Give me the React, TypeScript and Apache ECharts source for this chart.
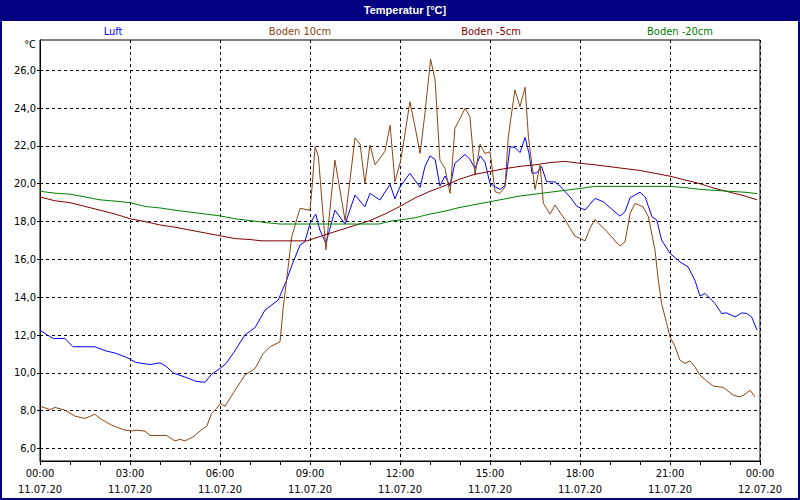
import React, { useEffect, useRef } from 'react';
import * as echarts from 'echarts';

// ---- data ----
const xTicks = [0, 3, 6, 9, 12, 15, 18, 21, 24];
const timeLabels = ['00:00', '03:00', '06:00', '09:00', '12:00', '15:00', '18:00', '21:00', '00:00'];
const dateLabels = ['11.07.20', '11.07.20', '11.07.20', '11.07.20', '11.07.20', '11.07.20', '11.07.20', '11.07.20', '12.07.20'];
const yTicks = [6, 8, 10, 12, 14, 16, 18, 20, 22, 24, 26];
const seriesNames = ['Luft', 'Boden 10cm', 'Boden -5cm', 'Boden -20cm'];
const seriesColors = ['#0000ff', '#8b4513', '#800000', '#008000'];
const chartTitle = 'Temperatur [°C]';
const unitLabel = '°C';

// [hour, °C]
const luft = [
  [0, 12.26], [0.2, 12.05], [0.44, 11.82], [0.83, 11.82], [1.1, 11.38], [1.83, 11.38], [2.2, 11.16], [2.5, 11.05],
  [2.9, 10.81], [3.2, 10.55], [3.67, 10.44], [4.0, 10.53], [4.2, 10.35], [4.44, 10.0], [4.9, 9.74], [5.2, 9.55],
  [5.5, 9.5], [5.72, 9.93], [6.0, 10.23], [6.2, 10.5], [6.44, 11.03], [6.83, 12.0], [7.17, 12.4], [7.5, 13.32],
  [7.94, 13.85], [8.22, 14.9], [8.4, 15.7], [8.67, 16.76], [8.83, 16.93], [9.0, 17.9], [9.19, 18.4], [9.33, 17.55],
  [9.53, 16.85], [9.83, 18.6], [10.17, 17.87], [10.5, 19.4], [10.83, 18.78], [11.0, 19.49], [11.33, 19.14],
  [11.67, 19.97], [11.83, 19.2], [12.0, 19.84], [12.33, 20.55], [12.67, 19.81], [12.83, 20.9], [13.0, 21.47],
  [13.17, 21.29], [13.33, 19.88], [13.5, 20.41], [13.67, 19.88], [13.83, 21.08], [14.17, 21.55], [14.33, 21.3],
  [14.5, 20.8], [14.67, 21.47], [14.83, 21.16], [15.0, 20.0], [15.17, 19.84], [15.33, 19.7], [15.5, 19.9],
  [15.67, 21.96], [15.83, 21.92], [16.0, 21.65], [16.17, 22.45], [16.3, 21.6], [16.4, 20.55], [16.56, 20.58],
  [16.72, 20.9], [16.89, 20.1], [17.17, 20.1], [17.33, 19.88], [17.67, 19.3], [17.9, 18.8], [18.17, 18.61],
  [18.5, 19.23], [18.77, 19.05], [19.33, 18.29], [19.5, 18.52], [19.67, 19.26], [20.0, 19.55], [20.17, 19.31],
  [20.4, 18.25], [20.56, 18.08], [20.72, 17.02], [21.0, 16.32], [21.33, 15.87], [21.6, 15.61], [21.83, 14.9],
  [22.0, 14.06], [22.17, 14.2], [22.5, 13.67], [22.72, 13.14], [22.89, 13.17], [23.17, 12.96], [23.39, 13.17],
  [23.56, 13.14], [23.72, 12.96], [23.9, 12.26],
];

const boden10 = [
  [0, 8.24], [0.33, 8.06], [0.5, 8.17], [0.83, 8.03], [1.17, 7.71], [1.5, 7.59], [1.83, 7.81], [2.0, 7.59],
  [2.39, 7.23], [2.83, 6.97], [3.06, 6.93], [3.22, 6.97], [3.5, 6.92], [3.67, 6.69], [4.22, 6.69], [4.5, 6.4],
  [4.67, 6.49], [4.83, 6.4], [5.1, 6.61], [5.44, 7.06], [5.56, 7.18], [5.72, 7.85], [5.89, 8.12], [6.0, 8.38],
  [6.17, 8.24], [6.5, 9.08], [6.83, 9.88], [7.17, 10.23], [7.44, 11.03], [7.67, 11.38], [8.0, 11.64], [8.11, 13.49],
  [8.28, 15.7], [8.39, 17.2], [8.67, 18.7], [9.0, 18.6], [9.06, 19.67], [9.17, 21.96], [9.28, 21.43], [9.53, 16.5],
  [9.83, 21.25], [10.17, 18.05], [10.5, 22.42], [10.67, 22.1], [10.83, 20.02], [11.0, 22.05], [11.17, 21.0],
  [11.5, 21.72], [11.67, 23.1], [11.83, 20.1], [12.0, 21.08], [12.1, 21.96], [12.33, 24.34], [12.5, 23.02],
  [12.67, 21.6], [12.83, 23.7], [13.02, 26.58], [13.17, 25.49], [13.33, 21.25], [13.5, 20.81], [13.67, 19.49],
  [13.83, 22.93], [14.17, 23.99], [14.33, 23.55], [14.5, 20.46], [14.67, 22.1], [14.83, 21.6], [15.0, 21.69],
  [15.17, 19.58], [15.33, 19.49], [15.5, 19.84], [15.61, 22.49], [15.83, 24.96], [16.0, 24.08], [16.17, 25.1],
  [16.28, 22.49], [16.5, 19.7], [16.67, 20.99], [16.78, 18.96], [17.0, 18.4], [17.17, 18.87], [17.5, 18.1],
  [17.67, 17.64], [17.83, 17.23], [18.17, 16.98], [18.33, 17.64], [18.5, 18.12], [18.67, 17.82], [18.83, 17.59],
  [19.33, 16.7], [19.5, 16.93], [19.67, 18.43], [19.83, 18.96], [20.1, 18.78], [20.28, 18.25], [20.5, 16.49],
  [20.61, 14.9], [20.72, 13.67], [20.89, 12.61], [21.0, 11.9], [21.17, 11.38], [21.33, 10.67], [21.5, 10.5],
  [21.67, 10.63], [21.83, 10.32], [22.0, 9.88], [22.22, 9.58], [22.44, 9.3], [22.78, 9.23], [23.11, 8.82],
  [23.33, 8.73], [23.5, 8.87], [23.67, 9.08], [23.83, 8.73],
];

const boden5 = [
  [0, 19.3], [0.5, 19.1], [1, 19.0], [1.5, 18.8], [2, 18.6], [2.5, 18.4], [3, 18.15], [3.5, 18.0], [4, 17.82],
  [4.5, 17.7], [5, 17.55], [5.5, 17.4], [6, 17.25], [6.5, 17.1], [7, 17.05], [7.4, 16.98], [8.9, 16.98],
  [9.5, 17.3], [10, 17.55], [10.5, 17.8], [11, 18.05], [11.5, 18.4], [12, 18.8], [12.5, 19.25], [13, 19.6],
  [13.5, 19.9], [14, 20.25], [14.5, 20.5], [15, 20.65], [15.5, 20.8], [16, 20.92], [16.5, 21.0], [17, 21.12],
  [17.5, 21.18], [18, 21.08], [18.5, 21.0], [19, 20.9], [19.5, 20.8], [20, 20.7], [20.5, 20.55], [21, 20.4],
  [21.5, 20.2], [22, 20.0], [22.5, 19.75], [23, 19.55], [23.5, 19.35], [23.9, 19.15],
];

const boden20 = [
  [0, 19.6], [0.5, 19.5], [1, 19.45], [1.5, 19.3], [2, 19.15], [2.5, 19.08], [3, 19.0], [3.5, 18.8], [4, 18.72],
  [4.5, 18.6], [5, 18.5], [5.5, 18.4], [6, 18.3], [6.5, 18.15], [7, 18.05], [7.5, 17.95], [8, 17.87], [11.3, 17.87],
  [11.7, 18.03], [12, 18.08], [12.5, 18.2], [13, 18.4], [13.5, 18.55], [14, 18.75], [14.5, 18.9], [15, 19.05],
  [15.5, 19.2], [16, 19.35], [16.5, 19.45], [17, 19.55], [17.5, 19.65], [18, 19.75], [18.5, 19.86], [21, 19.86],
  [21.5, 19.8], [22, 19.7], [22.5, 19.65], [23, 19.6], [23.5, 19.55], [23.9, 19.48],
];

const seriesData = [luft, boden10, boden5, boden20];
const legendCenters = [113, 300, 491, 680];

const FONT = "'Liberation Sans Narrow', 'Arial Narrow', 'DejaVu Sans Condensed', sans-serif";
const NAVY = '#000080';

export default function App() {
  const ref = useRef<HTMLDivElement>(null);
  useEffect(() => {
    document.body.style.margin = '0';
    const chart = echarts.init(ref.current!, null, { renderer: 'svg' });
    const option: any = {
      animation: false,
      backgroundColor: '#ffffff',
      grid: {
        left: 40, top: 40, right: 40, bottom: 39,
        show: true, borderColor: '#000', borderWidth: 1, backgroundColor: 'transparent',
      },
      xAxis: {
        type: 'value', min: 0, max: 24, interval: 3,
        axisLine: { show: true, lineStyle: { color: '#000', width: 1 } },
        axisTick: { show: true, length: 4, lineStyle: { color: '#000' } },
        minorTick: { show: true, splitNumber: 3, length: 4, lineStyle: { color: '#000' } },
        splitLine: { show: true, lineStyle: { color: '#000', type: [3, 3], width: 1 } },
        axisLabel: {
          color: '#000', fontFamily: FONT, fontSize: 11, lineHeight: 16, margin: 4,
          formatter: (v: number) => {
            const i = xTicks.indexOf(v);
            return i >= 0 ? timeLabels[i] + '\n' + dateLabels[i] : '';
          },
        },
      },
      yAxis: {
        type: 'value', min: 5.34, max: 27.6,
        axisLine: { show: true, lineStyle: { color: '#000', width: 1 } },
        axisTick: { show: true, length: 3, customValues: yTicks, lineStyle: { color: '#000' } },
        splitLine: { show: true, lineStyle: { color: '#000', type: [3, 3], width: 1 } },
        axisLabel: {
          color: '#000', fontFamily: FONT, fontSize: 11, margin: 4, customValues: yTicks,
          formatter: (v: number) => v.toFixed(1).replace('.', ','),
        },
      },
      series: seriesNames.map((name, i) => ({
        name, type: 'line', data: seriesData[i], showSymbol: false, symbol: 'none',
        lineStyle: { color: seriesColors[i], width: 1 }, itemStyle: { color: seriesColors[i] },
        z: 3, silent: true,
      })),
      graphic: [
        { type: 'rect', shape: { x: 0, y: 0, width: 800, height: 21 }, style: { fill: NAVY }, z: -1 },
        { type: 'rect', shape: { x: 1, y: 1, width: 798, height: 498 }, style: { fill: 'none', stroke: NAVY, lineWidth: 2 }, z: -1 },
        {
          type: 'text', x: 405, y: 10,
          style: { text: chartTitle, fill: '#fff', font: "bold 11px 'Liberation Sans', sans-serif", textAlign: 'center', textVerticalAlign: 'middle' },
        },
        {
          type: 'text', x: 36, y: 44,
          style: { text: unitLabel, fill: '#000', font: `11px ${FONT}`, textAlign: 'right', textVerticalAlign: 'middle' },
        },
        ...seriesNames.map((name, i) => ({
          type: 'text', x: legendCenters[i], y: 31,
          style: { text: name, fill: seriesColors[i], font: `11px ${FONT}`, textAlign: 'center', textVerticalAlign: 'middle' },
        })),
      ],
    };
    chart.setOption(option);
    return () => chart.dispose();
  }, []);
  return <div ref={ref} style={{ position: 'fixed', left: 0, top: 0, width: 800, height: 500, background: '#fff' }} />;
}
